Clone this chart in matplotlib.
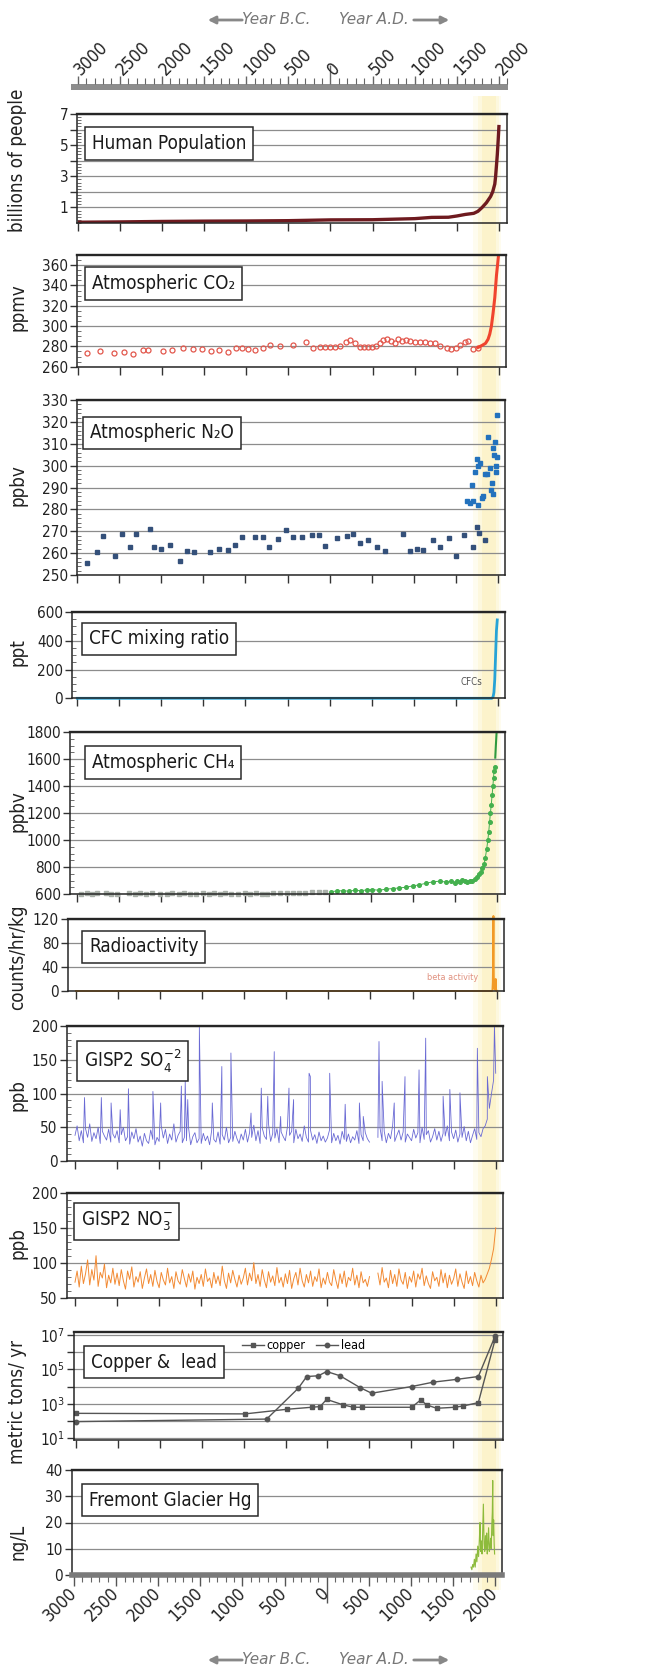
import numpy as np
import matplotlib
matplotlib.use('Agg')
import matplotlib.pyplot as plt
from matplotlib.ticker import MultipleLocator, NullLocator
from matplotlib.patches import Rectangle, FancyArrowPatch
from matplotlib import transforms

plt.rcParams['font.family'] = ['DejaVu Sans']
plt.rcParams['font.stretch'] = 'condensed'
plt.rcParams['mathtext.default'] = 'regular'

# ---- axis years ----
major_years = [-3000, -2500, -2000, -1500, -1000, -500, 0, 500, 1000, 1500, 2000]
year_labels = ['3000', '2500', '2000', '1500', '1000', '500', '0', '500', '1000', '1500', '2000']

# ---- human population (billions) ----
pop_year = [-3000, -2500, -2000, -1500, -1000, -500, 0, 500, 1000, 1200, 1400, 1500,
            1600, 1700, 1750, 1800, 1850, 1900, 1925, 1950, 1960, 1970, 1980, 1990, 2000]
pop = [0.05, 0.07, 0.1, 0.12, 0.13, 0.15, 0.2, 0.21, 0.28, 0.36, 0.37, 0.45,
       0.55, 0.62, 0.75, 1.0, 1.3, 1.7, 2.0, 2.5, 3.0, 3.7, 4.4, 5.3, 6.3]

# ---- CO2 (ppmv) ----
co2_pt_year = [-2886, -2736, -2566, -2451, -2340, -2229, -2162, -1984, -1885, -1755,
               -1636, -1530, -1423, -1320, -1221, -1126, -1055, -976, -897, -798,
               -719, -600, -442, -292, -205, -126, -67, -7, 52, 111,
               190, 230, 289, 349, 396, 443, 491, 538, 586, 626,
               665, 724, 764, 803, 843, 894, 942, 1001, 1060, 1120,
               1179, 1238, 1297, 1377, 1436, 1495, 1535, 1594, 1633, 1693, 1752]
co2_pt = [273.5, 275.3, 273.5, 274.2, 272.4, 276.0, 276.0, 275.3, 276.0, 278.2,
          277.1, 277.1, 275.3, 276.4, 274.5, 278.2, 278.9, 277.1, 276.4, 278.9,
          281.8, 280.7, 281.8, 284.4, 278.9, 279.6, 279.6, 279.6, 279.6, 280.7,
          284.4, 286.2, 283.3, 279.6, 279.6, 279.6, 279.6, 280.0, 283.3, 286.2,
          286.9, 285.5, 283.3, 286.9, 285.5, 286.2, 285.5, 284.4, 284.4, 284.4,
          283.3, 283.3, 280.7, 278.9, 277.1, 278.9, 281.8, 284.4, 285.5, 277.8, 278.2]
co2_line_year = [1752, 1800, 1840, 1870, 1890, 1910, 1930, 1950, 1970, 1985, 2000]
co2_line = [279, 281, 283, 287, 292, 300, 313, 328, 350, 362, 375]

# ---- N2O (ppbv) ----
n2o_year = [-2881, -2770, -2699, -2552, -2473, -2374, -2302, -2136, -2088, -2001,
            -1898, -1779, -1692, -1608, -1422, -1311, -1204, -1125, -1037, -887,
            -795, -724, -609, -518, -431, -332, -213, -125, -50, 93,
            204, 275, 362, 454, 561, 660, 870, 957, 1036, 1116,
            1227, 1314, 1421, 1500, 1603, 1710, 1750, 1782, 1845]
n2o = [255.5, 260.5, 268, 258.8, 268.8, 263, 268.8, 271, 263, 262,
       263.5, 256.4, 260.8, 260.3, 260.6, 262, 261.5, 263.5, 267.6, 267.6,
       267.6, 263, 266.5, 270.7, 267.6, 267.3, 268.3, 268.3, 263.3, 267,
       268, 268.8, 264.5, 266, 263, 260.8, 268.8, 261, 262, 261.5,
       266, 263, 267, 258.5, 268.5, 263, 272, 269, 266]
n2o_mod_year = [1631, 1671, 1690, 1710, 1730, 1750, 1760, 1770, 1790, 1810, 1829,
                1851, 1869, 1889, 1909, 1920, 1929, 1940, 1950, 1960, 1970, 1975,
                1980, 1988, 1992]
n2o_mod = [284, 283, 291, 284, 297, 303, 282, 300, 301, 285, 286,
           296, 296, 313, 299, 289, 292, 308, 287, 305, 311, 297,
           300, 323, 304]

# ---- CFC (ppt) ----
cfc_year = [-3000, 1000, 1900, 1930, 1945, 1955, 1965, 1975, 1985, 1995]
cfc = [0, 0, 0, 0, 10, 40, 130, 300, 470, 545]

# ---- CH4 (ppbv) ----
ch4_old_year = [-2950, -2880, -2820, -2760, -2650, -2590, -2520, -2380, -2310, -2250,
                -2180, -2100, -2010, -1930, -1860, -1780, -1720, -1650, -1580, -1500,
                -1430, -1370, -1300, -1230, -1160, -1080, -1000, -940, -870, -800,
                -730, -660, -580, -500, -430, -350, -280, -200, -120, -50]
ch4_old = [603, 605, 601, 604, 606, 600, 603, 605, 602, 604,
           601, 606, 603, 600, 605, 602, 604, 601, 603, 606,
           602, 604, 600, 605, 603, 601, 606, 602, 604, 601,
           603, 605, 607, 609, 606, 611, 610, 613, 612, 615]
ch4_year = [30, 100, 170, 240, 310, 380, 450, 520, 600, 680, 760, 840, 920, 1000,
            1080, 1160, 1240, 1320, 1400, 1460, 1500, 1530, 1560, 1590, 1620, 1650,
            1680, 1710, 1740, 1770, 1790, 1810, 1830, 1850, 1865, 1880, 1895, 1905,
            1915, 1925, 1935, 1945, 1955, 1962, 1968, 1975]
ch4 = [618, 622, 625, 620, 628, 624, 630, 633, 627, 636, 640, 645, 650, 660,
       668, 680, 690, 695, 688, 695, 685, 700, 690, 705, 695, 690,
       700, 698, 712, 728, 745, 760, 790, 820, 870, 930, 1000, 1060,
       1130, 1200, 1260, 1330, 1400, 1460, 1510, 1540]
ch4_inst_year = [1983, 1990, 1998]
ch4_inst = [1610, 1700, 1790]

# ---- radioactivity (counts/hr/kg) ----
rad_year = [-3000, 1000, 1945, 1950, 1954, 1958, 1961, 1963, 1966, 1970, 1980, 1988, 1992, 2000]
rad = [0, 0, 0, 2, 15, 60, 125, 60, 15, 5, 2, 20, 3, 0]

# ---- GISP2 sulfate (ppb), 25-yr steps from 3000 BC ----
so4_base = [38, 52, 30, 45, 27, 48, 35, 55, 29, 42, 33, 50, 26, 44, 37, 31, 47, 28, 40, 34,
            45, 27, 39, 50, 30, 36, 25, 43, 33, 48, 28, 37, 22, 41, 30, 26, 46, 32, 24, 35,
            29, 52, 34, 47, 26, 40, 31, 55, 28, 38, 44, 27, 35, 30, 49, 24, 36, 42, 27, 33,
            26, 41, 30, 37, 24, 46, 32, 28, 43, 25, 39, 31, 50, 27, 35, 29, 44, 33, 26, 40,
            31, 47, 28, 42, 35, 53, 30, 45, 26, 49, 37, 32, 55, 29, 41, 34, 48, 27, 43, 36,
            30, 51, 38, 44, 27, 47, 33, 40, 29, 52, 35, 28, 45, 31, 39, 26, 43, 30, 37, 28,
            34, 46, 27, 41, 30, 38, 25, 44, 32, 29, 40, 27, 36, 31, 45, 26, 39, 30, 42, 33,
            28, np.nan, np.nan, np.nan, 35, 49, 30, 44, 27, 41, 33, 52, 29, 38, 46, 31, 43, 28, 40, 35,
            30, 47, 34, 42, 27, 50, 32, 39, 45, 28, 36, 48, 31, 44, 29, 41, 37, 52, 30, 43,
            33, 46, 28, 40, 35, 51, 30, 44, 27, 38, 48, 32, 42, 36, 48, 52, 62, 78, 100, 120,
            130]
so4_spike_year = [-2887, -2687, -2571, -2463, -2365, -2074, -1982, -1736, -1690, -1660,
                  -1522, -1368, -1255, -1147, -908, -786, -709, -632, -556, -457,
                  -402, -218, -203, 27, 211, 380, 426, 613, 650, 794,
                  922, 1089, 1168, 1375, 1455, 1575, 1782, 1901, 1985]
so4_spike = [94, 94, 86, 76, 107, 103, 86, 111, 118, 91,
             198, 86, 140, 160, 71, 108, 96, 162, 66, 108,
             91, 130, 125, 130, 84, 86, 66, 177, 118, 86,
             125, 135, 182, 96, 106, 101, 167, 125, 200]

# ---- GISP2 nitrate (ppb), 25-yr steps from 3000 BC ----
no3_base = [72, 88, 65, 95, 70, 84, 104, 68, 90, 75, 110, 66, 86, 78, 98, 64, 82, 71, 92, 69,
            85, 67, 90, 74, 62, 88, 76, 94, 65, 80, 72, 87, 63, 78, 91, 70, 83, 66, 89, 73,
            64, 86, 75, 68, 92, 71, 80, 63, 87, 74, 69, 90, 77, 65, 84, 72, 88, 62, 79, 70,
            83, 66, 91, 73, 78, 64, 86, 70, 81, 67, 95, 74, 63, 85, 71, 89, 76, 65, 82, 69,
            78, 92, 68, 85, 74, 100, 70, 83, 66, 90, 75, 64, 87, 72, 81, 67, 93, 71, 79, 65,
            84, 70, 89, 63, 77, 86, 68, 92, 74, 65, 83, 71, 88, 66, 80, 73, 91, 64, 78, 69,
            86, 72, 67, 90, 75, 63, 84, 70, 88, 65, 79, 74, 92, 68, 82, 64, 87, 71, 76, 66,
            80, np.nan, np.nan, np.nan, 85, 68, 93, 72, 78, 64, 89, 70, 83, 66, 91, 75, 69, 86, 63, 80,
            72, 88, 65, 84, 76, 92, 67, 81, 70, 63, 87, 74, 79, 66, 90, 71, 85, 64, 82, 69,
            77, 91, 66, 84, 72, 63, 88, 70, 80, 67, 86, 74, 65, 82, 71, 76, 84, 92, 105, 120,
            150]

# ---- copper & lead production (metric tons / yr) ----
copper_year = [-3000, -983, -486, -188, -88, -9, 190, 310, 409, 1006, 1113, 1185, 1304, 1523, 1622, 1801, 2000]
copper = [280, 260, 480, 630, 690, 1800, 860, 630, 630, 630, 1670, 860, 550, 630, 750, 1170, 5e6]
lead_year = [-3000, -725, -347, -247, -108, -9, 151, 389, 528, 1006, 1264, 1543, 1801, 2000]
lead = [93, 130, 8000, 38000, 42000, 74000, 42000, 8700, 4100, 10000, 18000, 26000, 38000, 8e6]

# ---- Fremont Glacier mercury (ng/L) ----
hg_year = [1715, 1725, 1735, 1745, 1755, 1765, 1775, 1785, 1795, 1805,
           1815, 1822, 1830, 1838, 1846, 1854, 1862, 1870, 1878, 1886,
           1894, 1901, 1908, 1916, 1924, 1932, 1941, 1948, 1955, 1962,
           1968, 1973, 1978, 1984, 1990, 1995]
hg = [3, 2, 4, 3, 6, 3, 8, 5, 11, 7,
      14, 20, 9, 13, 8, 17, 27, 12, 9, 15,
      10, 16, 8, 12, 18, 9, 11, 14, 10, 19,
      24, 36, 15, 21, 12, 8]

# ---------------------------------------------------------------
W, H = 671, 1671
fig = plt.figure(figsize=(W / 100, H / 100), dpi=100)


def px_rect(top, bottom, left, right):
    return [left / W, 1 - bottom / H, (right - left) / W, (bottom - top) / H]


def x_limits(left, right, x0, x1):
    s = 5000 / (x1 - x0)
    return -3000 - (x0 - left) * s, 2000 + (right - x1) * s


def panel(box, title, toff):
    top, bottom, left, right, x0, x1 = box
    ax = fig.add_axes(px_rect(top, bottom, left, right))
    ax.set_xlim(*x_limits(left, right, x0, x1))
    ax.set_facecolor('none')
    for sp in ax.spines.values():
        sp.set_linewidth(1.1)
        sp.set_color('#262626')
    ax.spines['top'].set_linewidth(1.7)
    ax.set_xticks(major_years)
    ax.tick_params(axis='x', direction='out', length=6, width=1, labelbottom=False, color='#333')
    ax.tick_params(axis='y', which='major', direction='out', length=5, width=1,
                   labelsize=11, pad=1.5, color='#333', labelcolor='#222')
    ax.tick_params(axis='y', which='minor', direction='in', length=3, width=0.6, color='#555')
    ax.yaxis.grid(True, color='#8c8c8c', lw=0.9)
    ax.set_axisbelow(True)
    ax.annotate(title, xy=(0, 1), xycoords='axes fraction', xytext=(toff[0] + 6, -toff[1]),
                textcoords='offset pixels', ha='left', va='center', fontsize=13.5, color='#1a1a1a',
                bbox=dict(boxstyle='square,pad=0.36', fc='white', ec='#2a2a2a', lw=1.1), zorder=6)
    return ax


# top ruler
ax_t = fig.add_axes(px_rect(84, 90, 71, 508))
ax_t.set_xlim(*x_limits(71, 508, 77.7, 499))
ax_t.set_facecolor('#8d8d8d')
for sp in ax_t.spines.values():
    sp.set_visible(False)
ax_t.set_yticks([])
ax_t.xaxis.set_ticks_position('top')
ax_t.set_xticks(major_years, labels=year_labels)
ax_t.xaxis.set_minor_locator(MultipleLocator(100))
ax_t.tick_params(axis='x', which='both', top=True, bottom=False, labeltop=True, labelbottom=False,
                 direction='out', color='#666')
ax_t.tick_params(axis='x', which='major', length=6, width=1, labelsize=12.5, pad=2,
                 labelrotation=45, labelcolor='#222')
ax_t.tick_params(axis='x', which='minor', length=4, width=0.8)
for t in ax_t.xaxis.get_major_ticks():
    t.label2.set_ha('left')
    t.label2.set_va('center')
    t.label2.set_rotation_mode('anchor')
ax_t.xaxis.get_major_ticks()[6].tick2line.set_markersize(14)

# 1 population
ax = panel((114, 223, 77.3, 506.7, 77.7, 499), 'Human Population', (8.7, 29.5))
ax.plot(pop_year, pop, color='#6e1a1f', lw=2.4, solid_capstyle='butt')
ax.set_ylim(0, 7)
ax.set_yticks([1, 2, 3, 4, 5, 6, 7], labels=['1', '', '3', '', '5', '', '7'])
ax.yaxis.set_minor_locator(MultipleLocator(0.2))
ax_pop = ax

# pale yellow band behind all panels
band = transforms.blended_transform_factory(ax_pop.transData, fig.transFigure)
for x0, w, c in [(1690, 330, '#fefcef'), (1750, 250, '#fdf8de'), (1800, 170, '#fcf3cb')]:
    fig.add_artist(Rectangle((x0, 1 - 1590 / H), w, (1590 - 96) / H, transform=band,
                             color=c, lw=0, zorder=-5))

# 2 CO2
ax = panel((255, 366.7, 77.3, 506, 77.7, 499), 'Atmospheric CO₂', (8.7, 28.5))
ax.plot(co2_pt_year, co2_pt, 'o', ms=3.6, mfc='none', mec='#e2574c', mew=0.9)
ax.plot(co2_line_year, co2_line, color='#f0442e', lw=2.2)
ax.set_ylim(260, 370)
ax.set_yticks([260, 280, 300, 320, 340, 360])
ax.yaxis.set_minor_locator(MultipleLocator(5))

# 3 N2O
ax = panel((400, 575, 77.3, 505, 77.3, 497.7), 'Atmospheric N₂O', (6.7, 33))
ax.plot(n2o_year, n2o, 's', ms=3.2, color='#34507a')
ax.plot(n2o_mod_year, n2o_mod, 's', ms=3.2, color='#2372bd')
ax.set_ylim(250, 330)
ax.set_yticks(range(250, 331, 10))
ax.yaxis.set_minor_locator(MultipleLocator(2))

# 4 CFC
ax = panel((612, 698.3, 72, 505, 77.3, 497.7), 'CFC mixing ratio', (11, 27))
ax.plot(cfc_year, cfc, color='#27a3d6', lw=2, clip_on=False)
ax.text(1690, 110, 'CFCs', fontsize=7, color='#555', ha='center', va='center')
ax.set_ylim(0, 600)
ax.set_yticks([0, 200, 400, 600])
ax.yaxis.set_minor_locator(MultipleLocator(50))

# 5 CH4
ax = panel((732, 894, 70, 505, 76.7, 496.7), 'Atmospheric CH₄', (16, 30.5))
ax.plot(ch4_old_year, ch4_old, 's', ms=2.2, color='#a9b0a9', clip_on=False)
ax.plot(ch4_year, ch4, 'o-', ms=2.6, lw=0.7, color='#44b04e')
ax.plot(ch4_inst_year, ch4_inst, color='#2f9a3e', lw=1.5)
ax.set_ylim(600, 1800)
ax.set_yticks(range(600, 1801, 200))
ax.yaxis.set_minor_locator(MultipleLocator(50))

# 6 radioactivity
ax = panel((919, 991, 68, 504.3, 76, 496.7), 'Radioactivity', (15, 28))
ax.plot(rad_year, rad, color='#f29a26', lw=1.4, clip_on=False)
ax.text(1470, 22, 'beta activity', fontsize=6.5, color='#e0907e', ha='center', va='center')
ax.set_ylim(0, 120)
ax.set_yticks([0, 40, 80, 120])

# 7 sulfate
ax = panel((1026, 1161, 66.7, 503.3, 75, 495.7), 'GISP2 SO$_4^{-2}$', (11.3, 35))
so4_year = np.concatenate([np.arange(-3000, 2001, 25), so4_spike_year])
so4_val = np.concatenate([so4_base, so4_spike])
order = np.argsort(so4_year, kind='stable')
ax.plot(so4_year[order], so4_val[order], color='#6a6ad4', lw=0.6)
ax.set_ylim(0, 200)
ax.set_yticks([0, 50, 100, 150, 200])
ax.yaxis.set_minor_locator(MultipleLocator(10))

# 8 nitrate
ax = panel((1193, 1297.5, 66.7, 502.7, 75, 495.7), 'GISP2 NO$_3^{-}$', (8.3, 28))
ax.plot(np.arange(-3000, 2001, 25), no3_base, color='#f28a33', lw=0.7)
ax.set_ylim(50, 200)
ax.set_yticks([50, 100, 150, 200])
ax.yaxis.set_minor_locator(MultipleLocator(10))

# 9 copper & lead
ax = panel((1331.7, 1440, 74, 502.7, 76, 495), 'Copper &  lead', (11, 30.3))
ax.set_yscale('log')
ax.plot(copper_year, copper, 's-', ms=3.2, lw=1, color='#555', label='copper')
ax.plot(lead_year, lead, 'o-', ms=3.2, lw=1, color='#555', label='lead')
ax.set_ylim(8, 1.5e7)
ax.set_yticks([1e1, 1e2, 1e3, 1e4, 1e5, 1e6, 1e7],
              labels=['$10^1$', '', '$10^3$', '', '$10^5$', '', '$10^7$'])
ax.yaxis.set_minor_locator(NullLocator())
ax.legend(loc='center', bbox_to_anchor=(0.535, 0.87), ncol=2, frameon=False, fontsize=9,
          handlelength=1.8, columnspacing=0.8, handletextpad=0.2, borderpad=0)

# 10 mercury + bottom ruler
ax = panel((1470, 1575, 71.7, 501.7, 74, 495), 'Fremont Glacier Hg', (11.3, 30))
ax.plot(hg_year, hg, color='#8dbb3c', lw=0.8)
ax.set_ylim(0, 40)
ax.set_yticks([0, 10, 20, 30, 40])
ax.spines['bottom'].set_linewidth(4)
ax.spines['bottom'].set_color('#7a7a7a')
ax.set_xticks(major_years, labels=year_labels)
ax.xaxis.set_minor_locator(MultipleLocator(100))
ax.tick_params(axis='x', which='major', length=8, width=1, labelbottom=True, labelsize=12.5,
               labelrotation=45, pad=3, color='#555', labelcolor='#222')
ax.tick_params(axis='x', which='minor', direction='out', length=5, width=0.8, color='#666')
for t in ax.xaxis.get_major_ticks():
    t.label1.set_ha('right')
    t.label1.set_va('center')
    t.label1.set_rotation_mode('anchor')
ax.xaxis.get_major_ticks()[6].tick1line.set_markersize(20)

# y-axis labels
ylabels = ['billions of people', 'ppmv', 'ppbv', 'ppt', 'ppbv', 'counts/hr/kg',
           'ppb', 'ppb', 'metric tons/ yr', 'ng/L']
ylabel_y = [160, 307, 485, 652, 811, 957, 1095, 1243, 1402, 1542]
for lab, yc in zip(ylabels, ylabel_y):
    fig.text(18 / W, 1 - yc / H, lab, rotation=90, ha='center', va='center',
             fontsize=13.5, color='#222')

# "Year B.C.  Year A.D." captions with arrows
for yc in (20, 1660):
    fig.text(276 / W, 1 - yc / H, 'Year B.C.', style='italic', fontsize=11, fontstretch='normal',
             color='#777', ha='center', va='center')
    fig.text(374 / W, 1 - yc / H, 'Year A.D.', style='italic', fontsize=11, fontstretch='normal',
             color='#777', ha='center', va='center')
    for a, b in ((245, 205), (411, 452)):
        fig.add_artist(FancyArrowPatch((a / W, 1 - yc / H), (b / W, 1 - yc / H),
                                       transform=fig.transFigure, arrowstyle='-|>',
                                       mutation_scale=11, lw=2, color='#888'))

fig.savefig('out.png', dpi=100)
